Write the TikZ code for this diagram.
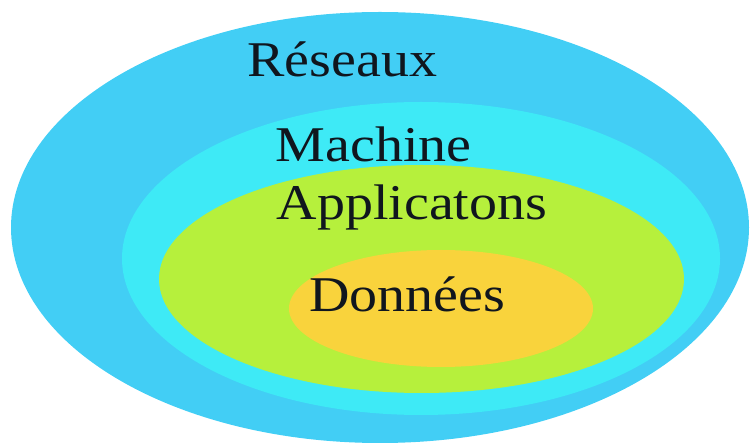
\documentclass[tikz,border=0pt]{standalone}
\usepackage{fontspec}
\setmainfont{Liberation Serif}
\definecolor{netblue}{RGB}{66,206,245}
\definecolor{hostcyan}{RGB}{62,234,246}
\definecolor{appgreen}{RGB}{182,240,60}
\definecolor{dataorange}{RGB}{249,211,60}
\definecolor{labelink}{RGB}{16,22,30}
\begin{document}
\begin{tikzpicture}[x=1pt,y=1pt,
  layer/.style={draw=none},
  layerlabel/.style={anchor=base,text=labelink,inner sep=0pt,
    font=\fontsize{50}{50}\selectfont,xscale=1.12,transform shape}]
\useasboundingbox (0,0) rectangle (755,447);
% nested layers, outermost first (y measured from the bottom edge)
\fill[netblue]    (380,219.5) ellipse [x radius=369, y radius=215.5];
\fill[hostcyan]   (421,188.5) ellipse [x radius=299, y radius=156.5];
\fill[appgreen]   (421.5,168) ellipse [x radius=262.5, y radius=114];
\fill[dataorange] (441,138.5) ellipse [x radius=152, y radius=58.5];
% layer names
\node[layerlabel] (reseaux) at (342.5,370) {Réseaux};
\node[layerlabel] (machine) at (373.5,285) {Machine};
\node[layerlabel] (applis)  at (412,227)  {Applicatons};
\node[layerlabel] (donnees) at (407.5,135) {Données};
\end{tikzpicture}
\end{document}
